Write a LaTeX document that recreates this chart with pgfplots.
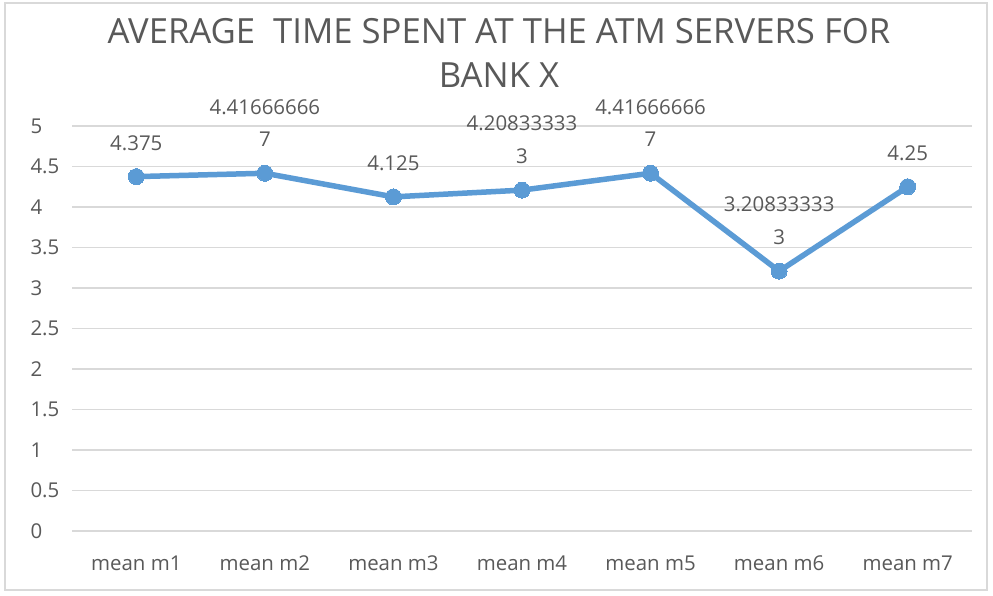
\documentclass[border=0pt]{standalone}
\usepackage{pgfplots}
\pgfplotsset{compat=1.18}
\usepackage{fontspec}
\setmainfont{Open Sans}
\definecolor{txtgray}{HTML}{595959}
\definecolor{gridgray}{HTML}{D9D9D9}
\definecolor{lineblue}{HTML}{5B9BD5}
\begin{document}
\begin{tikzpicture}
\useasboundingbox (-72bp,-65bp) rectangle (921bp,531bp);
\fill[white] (-72bp,-65bp) rectangle (921bp,531bp);
\draw[gridgray, line width=1.5bp] (-67bp,-59bp) rectangle (915bp,528bp);
\node[text=txtgray, align=center, font=\fontsize{34.8}{45}\selectfont] at (427bp,478bp)
  {AVERAGE\ \ TIME SPENT AT THE ATM SERVERS FOR\\BANK X};
\begin{axis}[
  at={(0,0)}, anchor=south west,
  scale only axis,
  width=900bp, height=405bp,
  xmin=0.5, xmax=7.5,
  ymin=0, ymax=5,
  axis line style={draw=none},
  ymajorgrids,
  grid style={gridgray, line width=1.3bp},
  major tick length=0pt,
  xtick={1,...,7},
  xticklabels={mean m1,mean m2,mean m3,mean m4,mean m5,mean m6,mean m7},
  ytick={0,0.5,...,5},
  yticklabels={0,0.5,1,1.5,2,2.5,3,3.5,4,4.5,5},
  ticklabel style={font=\fontsize{20.5}{24}\selectfont, text=txtgray},
  yticklabel style={anchor=west, xshift=-45bp},
  xticklabel style={yshift=-21bp},
  clip=false,
]
\addplot[color=lineblue, line width=5.5bp, mark=*, mark size=8bp,
  mark options={solid, fill=lineblue, draw=lineblue, line width=0pt},
  nodes near coords, point meta=explicit symbolic,
  every node near coord/.append style={font=\fontsize{20.5}{33}\selectfont,
    text=txtgray, align=center, anchor=south, yshift=23bp}]
coordinates {
  (1,4.375) [4.375]
  (2,4.416666667) [{4.41666666\\7}]
  (3,4.125) [4.125]
  (4,4.208333333) [{4.20833333\\3}]
  (5,4.416666667) [{4.41666666\\7}]
  (6,3.208333333) [{3.20833333\\3}]
  (7,4.25) [4.25]
};
\end{axis}
\end{tikzpicture}
\end{document}
